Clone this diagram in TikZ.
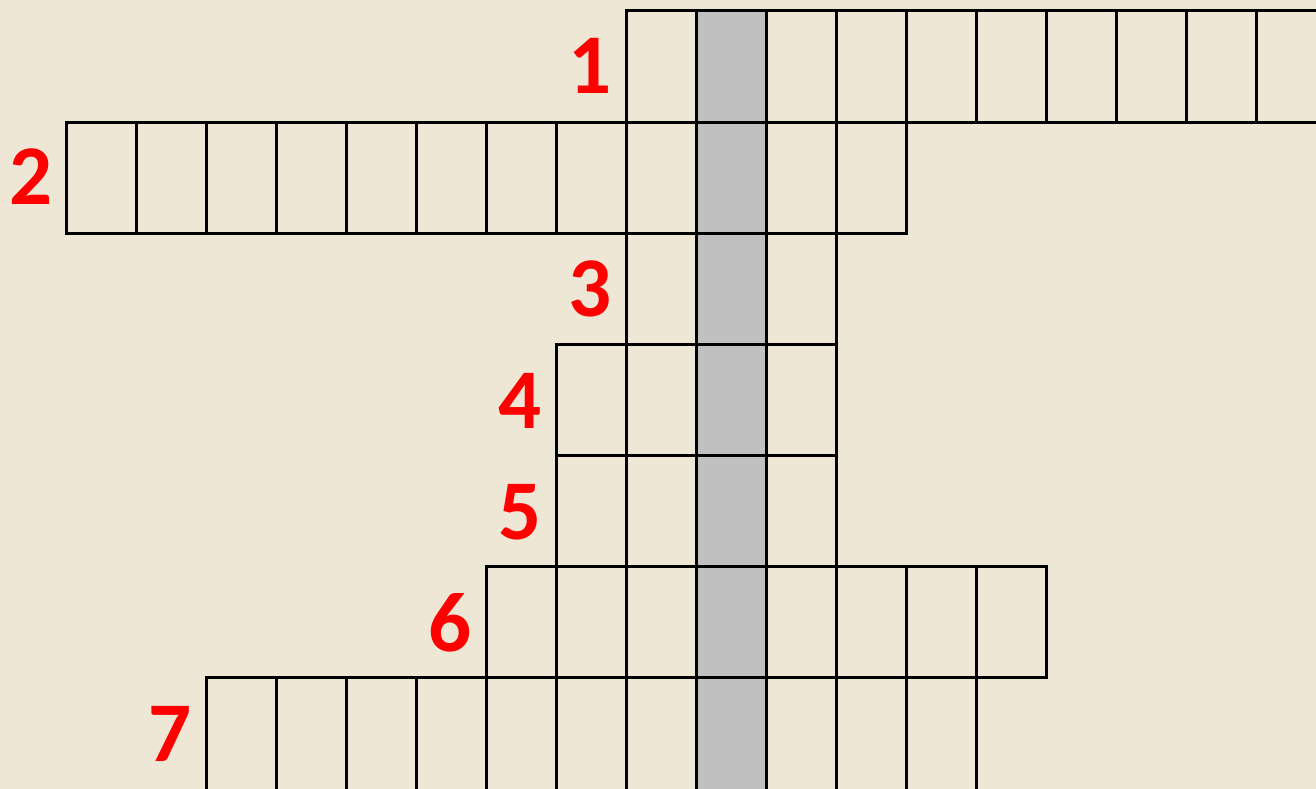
\documentclass[tikz,border=0pt]{standalone}
\usepackage{fontspec}
\setmainfont{Carlito}
\definecolor{bgbeige}{RGB}{239,231,214}
\definecolor{cellgray}{RGB}{192,192,192}
\begin{document}
\begin{tikzpicture}[x=1pt,y=-1pt,
  cellbox/.style={draw=black,line width=3pt},
  grayband/.style={fill=cellgray},
  num/.style={text=red,font=\bfseries\fontsize{85}{85}\selectfont,inner sep=0pt}]
\useasboundingbox (0,0) rectangle (1316,789);
\clip (0,0) rectangle (1316,789);
\fill[bgbeige] (0,0) rectangle (1316,789);
\fill[grayband] (696,11) rectangle (766,800);
% rows: row index / first column / last column (exclusive)
\foreach \r/\a/\b in {0/8/18, 1/0/12, 2/8/11, 3/7/11, 4/7/11, 5/6/14, 6/2/13} {
  \pgfmathsetmacro{\ya}{11+111.15*\r}
  \pgfmathsetmacro{\yb}{\r==6 ? 810 : 11+111.15*(\r+1)}
  \pgfmathtruncatemacro{\bb}{\b-1}
  \foreach \c in {\a,...,\bb} {
    \pgfmathsetmacro{\xa}{66+70*\c}
    \pgfmathsetmacro{\xb}{66+70*(\c+1)}
    \draw[cellbox] (\xa,\ya) rectangle (\xb,\yb);
  }
}
\node[num] (n1) at (590,66) {1};
\node[num] (n2) at (31,177) {2};
\node[num] (n3) at (590,289) {3};
\node[num] (n4) at (520,401) {4};
\node[num] (n5) at (520,512) {5};
\node[num] (n6) at (450,623) {6};
\node[num] (n7) at (170,734) {7};
\end{tikzpicture}
\end{document}
